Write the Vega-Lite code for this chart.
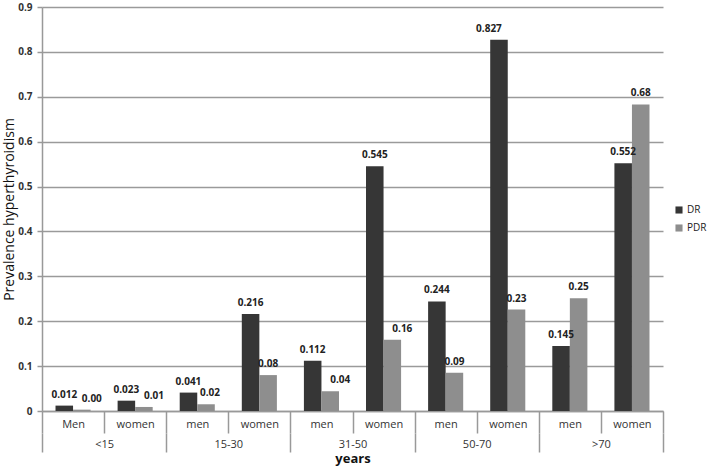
{
  "$schema": "https://vega.github.io/schema/vega-lite/v6.json",
  "autosize": "none",
  "width": 621,
  "height": 404,
  "padding": {"left": 42, "top": 7, "right": 46, "bottom": 56},
  "background": "white",
  "config": {
    "font": "Open Sans",
    "view": {"stroke": null},
    "axis": {"labelFont": "Open Sans", "titleFont": "Open Sans"}
  },
  "datasets": {
    "bars": [
      {"age": "<15", "sex": "Men", "slot": "<15|Men", "series": "DR", "value": 0.012, "label": "0.012"},
      {"age": "<15", "sex": "Men", "slot": "<15|Men", "series": "PDR", "value": 0.003, "label": "0.00"},
      {"age": "<15", "sex": "women", "slot": "<15|women", "series": "DR", "value": 0.023, "label": "0.023"},
      {"age": "<15", "sex": "women", "slot": "<15|women", "series": "PDR", "value": 0.009, "label": "0.01"},
      {"age": "15-30", "sex": "men", "slot": "15-30|men", "series": "DR", "value": 0.041, "label": "0.041"},
      {"age": "15-30", "sex": "men", "slot": "15-30|men", "series": "PDR", "value": 0.015, "label": "0.02"},
      {"age": "15-30", "sex": "women", "slot": "15-30|women", "series": "DR", "value": 0.216, "label": "0.216"},
      {"age": "15-30", "sex": "women", "slot": "15-30|women", "series": "PDR", "value": 0.08, "label": "0.08"},
      {"age": "31-50", "sex": "men", "slot": "31-50|men", "series": "DR", "value": 0.112, "label": "0.112"},
      {"age": "31-50", "sex": "men", "slot": "31-50|men", "series": "PDR", "value": 0.044, "label": "0.04"},
      {"age": "31-50", "sex": "women", "slot": "31-50|women", "series": "DR", "value": 0.545, "label": "0.545"},
      {"age": "31-50", "sex": "women", "slot": "31-50|women", "series": "PDR", "value": 0.159, "label": "0.16"},
      {"age": "50-70", "sex": "men", "slot": "50-70|men", "series": "DR", "value": 0.244, "label": "0.244"},
      {"age": "50-70", "sex": "men", "slot": "50-70|men", "series": "PDR", "value": 0.085, "label": "0.09"},
      {"age": "50-70", "sex": "women", "slot": "50-70|women", "series": "DR", "value": 0.827, "label": "0.827"},
      {"age": "50-70", "sex": "women", "slot": "50-70|women", "series": "PDR", "value": 0.226, "label": "0.23"},
      {"age": ">70", "sex": "men", "slot": ">70|men", "series": "DR", "value": 0.145, "label": "0.145"},
      {"age": ">70", "sex": "men", "slot": ">70|men", "series": "PDR", "value": 0.251, "label": "0.25"},
      {"age": ">70", "sex": "women", "slot": ">70|women", "series": "DR", "value": 0.552, "label": "0.552"},
      {"age": ">70", "sex": "women", "slot": ">70|women", "series": "PDR", "value": 0.683, "label": "0.68"}
    ],
    "groups": [
      {"age": "<15"}, {"age": "15-30"}, {"age": "31-50"}, {"age": "50-70"}, {"age": ">70"}
    ]
  },
  "layer": [
    {
      "data": {"name": "bars"},
      "encoding": {
        "x": {
          "field": "slot",
          "type": "nominal",
          "sort": ["<15|Men", "<15|women", "15-30|men", "15-30|women", "31-50|men", "31-50|women", "50-70|men", "50-70|women", ">70|men", ">70|women"],
          "scale": {"paddingInner": 0, "paddingOuter": 0},
          "axis": {
            "title": null,
            "orient": "bottom",
            "labelExpr": "split(datum.value, '|')[1]",
            "labelAngle": 0,
            "labelFontSize": 11,
            "labelColor": "#333333",
            "labelPadding": -15,
            "labelBaseline": "top",
            "tickBand": "extent",
            "tickSize": 22,
            "tickColor": "#999999",
            "tickWidth": 1.5,
            "domainColor": "#999999",
            "domainWidth": 1.5
          }
        },
        "xOffset": {
          "field": "series",
          "type": "nominal",
          "sort": ["DR", "PDR"],
          "scale": {"paddingInner": 0, "paddingOuter": 0.77}
        },
        "y": {
          "field": "value",
          "type": "quantitative",
          "scale": {"domain": [0, 0.9], "nice": false},
          "axis": {
            "title": "Prevalence hyperthyroidism",
            "titleFontSize": 14,
            "titleFontWeight": "normal",
            "titleColor": "#111111",
            "titlePadding": 1,
            "values": [0, 0.1, 0.2, 0.3, 0.4, 0.5, 0.6, 0.7, 0.8, 0.9],
            "labelExpr": "datum.value == 0 ? '0' : format(datum.value, '.1f')",
            "labelFontSize": 10,
            "labelFontWeight": "bold",
            "labelColor": "#333333",
            "labelPadding": 5,
            "tickSize": 5,
            "tickColor": "#999999",
            "tickWidth": 1.5,
            "domainColor": "#999999",
            "domainWidth": 1.5,
            "grid": true,
            "gridColor": "#9a9a9a",
            "gridWidth": 1.5
          }
        }
      },
      "layer": [
        {
          "mark": {"type": "bar"},
          "encoding": {
            "color": {
              "field": "series",
              "type": "nominal",
              "scale": {"domain": ["DR", "PDR"], "range": ["#363636", "#8e8e8e"]},
              "legend": {
                "title": null,
                "orient": "none",
                "legendX": 632,
                "legendY": 198,
                "symbolType": "square",
                "symbolSize": 50,
                "symbolStrokeWidth": 0,
                "labelFontSize": 10,
                "labelColor": "#222222",
                "labelOffset": 3,
                "rowPadding": 8
              }
            }
          }
        },
        {
          "transform": [{"filter": {"not": {"field": "label", "oneOf": ["0.00", "0.01", "0.02", "0.04", "0.16", "0.827"]}}}],
          "mark": {"type": "text", "baseline": "bottom", "dy": -6, "fontSize": 10, "fontWeight": "bold", "color": "#222222"},
          "encoding": {"text": {"field": "label", "type": "nominal"}}
        },
        {
          "transform": [{"filter": {"field": "label", "oneOf": ["0.00", "0.01", "0.04", "0.16"]}}],
          "mark": {"type": "text", "baseline": "bottom", "dy": -6, "dx": 10, "fontSize": 10, "fontWeight": "bold", "color": "#222222"},
          "encoding": {"text": {"field": "label", "type": "nominal"}}
        },
        {
          "transform": [{"filter": {"field": "label", "oneOf": ["0.02"]}}],
          "mark": {"type": "text", "baseline": "bottom", "dy": -6, "dx": 4, "fontSize": 10, "fontWeight": "bold", "color": "#222222"},
          "encoding": {"text": {"field": "label", "type": "nominal"}}
        },
        {
          "transform": [{"filter": {"field": "label", "oneOf": ["0.827"]}}],
          "mark": {"type": "text", "baseline": "bottom", "dy": -6, "dx": -10, "fontSize": 10, "fontWeight": "bold", "color": "#222222"},
          "encoding": {"text": {"field": "label", "type": "nominal"}}
        }
      ]
    },
    {
      "data": {"name": "groups"},
      "mark": {"type": "point", "opacity": 0},
      "encoding": {
        "x": {
          "field": "age",
          "type": "nominal",
          "sort": ["<15", "15-30", "31-50", "50-70", ">70"],
          "scale": {"paddingInner": 0, "paddingOuter": 0},
          "axis": {
            "title": "years",
            "titleFontSize": 13,
            "titleFontWeight": "bold",
            "titleColor": "#111111",
            "titlePadding": 0,
            "orient": "bottom",
            "offset": 22,
            "domain": false,
            "labelAngle": 0,
            "labelFontSize": 11,
            "labelColor": "#333333",
            "labelPadding": -14,
            "labelBaseline": "top",
            "tickBand": "extent",
            "tickSize": 19,
            "tickColor": "#999999",
            "tickWidth": 1.5
          }
        }
      }
    }
  ],
  "resolve": {"scale": {"x": "independent"}, "axis": {"x": "independent"}}
}
